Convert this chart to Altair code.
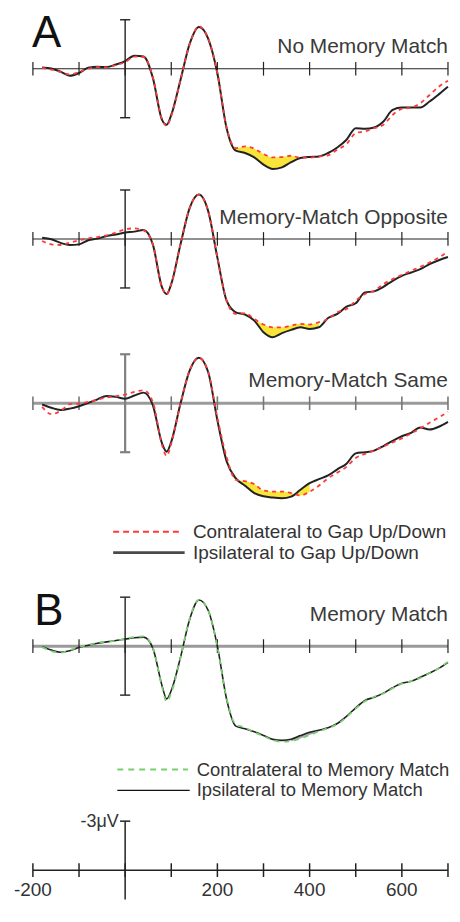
import altair as alt
import pandas as pd

# ---------------- data (ms, µV; negative plotted upward) ----------------
TIME = [-180, -160, -140, -120, -100, -80, -60, -40, -20, 0, 20, 40, 60, 80, 90, 100,
        120, 140, 160, 180, 200, 220, 240, 260, 280, 300, 320, 340, 360, 380, 400,
        420, 440, 460, 480, 500, 520, 540, 560, 580, 600, 620, 640, 660, 680, 700]

A1_IPSI = [-0.08, -0.02, 0.18, 0.43, 0.26, -0.06, -0.12, -0.10, -0.26, -0.47, -0.80, -0.75,
           0.55, 3.13, 3.43, 2.83, 0.69, -1.54, -2.56, -1.85, 0.28, 3.64, 5.02, 5.16, 5.43,
           5.87, 6.14, 6.04, 5.72, 5.47, 5.40, 5.37, 5.16, 4.82, 4.35, 3.64, 3.68, 3.60,
           3.23, 2.52, 2.38, 2.38, 2.38, 2.01, 1.57, 1.10]
A1_CONTRA = [-0.05, 0.05, 0.20, 0.35, 0.20, 0.00, -0.10, -0.08, -0.22, -0.40, -0.74, -0.72,
             0.50, 3.10, 3.50, 2.90, 0.70, -1.50, -2.60, -1.85, 0.25, 3.60, 4.86, 4.76, 4.90,
             5.22, 5.43, 5.41, 5.33, 5.45, 5.45, 5.37, 5.30, 4.96, 4.61, 3.94, 3.84, 3.64,
             3.43, 2.83, 2.46, 2.38, 2.11, 1.61, 1.10, 0.73]

A2_IPSI = [-0.08, 0.02, 0.24, 0.37, 0.33, 0.08, -0.02, -0.18, -0.28, -0.39, -0.45, -0.55,
           0.33, 2.97, 3.37, 2.76, 0.33, -1.91, -2.72, -1.71, 1.14, 3.78, 4.49, 4.63, 5.00,
           5.71, 6.02, 5.77, 5.57, 5.41, 5.51, 5.41, 4.84, 4.59, 4.15, 3.94, 3.27, 3.21,
           2.93, 2.56, 2.26, 2.05, 1.85, 1.54, 1.30, 1.10]
A2_CONTRA = [0.12, 0.33, 0.37, 0.22, 0.08, -0.04, -0.12, -0.22, -0.39, -0.59, -0.65, -0.53,
             0.33, 2.97, 3.40, 2.76, 0.33, -1.91, -2.72, -1.71, 1.14, 3.78, 4.59, 4.55, 4.90,
             5.24, 5.41, 5.41, 5.30, 5.20, 5.24, 5.10, 4.90, 4.49, 4.29, 3.78, 3.37, 3.17,
             2.76, 2.46, 2.20, 1.95, 1.71, 1.44, 1.14, 0.77]

A3_IPSI = [0.08, 0.28, 0.41, 0.33, 0.18, -0.02, -0.24, -0.45, -0.39, -0.28, -0.47, -0.65,
           0.12, 2.46, 2.97, 2.36, 0.02, -2.01, -2.78, -1.91, 1.04, 3.55, 4.60, 5.05, 5.50,
           5.70, 5.78, 5.82, 5.72, 5.30, 4.90, 4.65, 4.42, 4.05, 3.70, 3.07, 3.00, 2.90,
           2.62, 2.30, 2.02, 1.81, 1.48, 1.61, 1.44, 1.14]
A3_CONTRA = [0.22, 0.67, 0.47, 0.06, 0.02, -0.08, -0.22, -0.35, -0.43, -0.53, -0.69, -0.79,
             -0.08, 2.56, 3.23, 2.46, 0.02, -2.01, -2.78, -1.91, 0.90, 3.30, 4.70, 4.77, 4.95,
             5.35, 5.41, 5.41, 5.50, 5.65, 5.42, 5.05, 4.60, 4.25, 3.90, 3.35, 3.10, 2.90,
             2.65, 2.40, 2.15, 1.85, 1.54, 1.20, 0.87, 0.53]

B_IPSI = [0.04, 0.24, 0.37, 0.28, 0.08, -0.06, -0.18, -0.26, -0.35, -0.43, -0.51, -0.55,
          0.12, 2.42, 3.23, 2.72, 0.69, -1.65, -2.83, -2.20, 0.00, 3.25, 4.90, 5.06, 5.25,
          5.47, 5.71, 5.77, 5.70, 5.48, 5.28, 5.15, 5.00, 4.74, 4.30, 3.78, 3.33, 3.13,
          2.88, 2.55, 2.28, 2.15, 1.91, 1.65, 1.36, 0.99]
B_CONTRA = [0.06, 0.30, 0.40, 0.25, 0.05, -0.08, -0.20, -0.28, -0.33, -0.45, -0.55, -0.60,
            0.10, 2.50, 3.40, 2.85, 0.72, -1.70, -2.83, -2.20, 0.05, 3.20, 4.80, 4.98, 5.28,
            5.50, 5.76, 5.85, 5.82, 5.66, 5.45, 5.22, 5.02, 4.78, 4.35, 3.82, 3.38, 3.10,
            2.90, 2.58, 2.30, 2.14, 1.95, 1.65, 1.35, 0.95]

SHADE_A1 = [220, 380]
SHADE_A2 = [240, 420]
SHADE_A3 = [200, 400]
SHADE_B = [360, 420]

TICKS = [-200, -100, 0, 100, 200, 300, 400, 500, 600, 700]
TICK_LABELS = [-200, 200, 400, 600]
SCALE_BAR = [-3, 3]
SCALE_BAR_VISIBLE_END = 1.8   # the bottom scale bar runs off the page
SCALE_LABEL = "-3μV"

TITLES = ["No Memory Match", "Memory-Match Opposite", "Memory-Match Same", "Memory Match"]
LEGEND_A = ["Contralateral to Gap Up/Down", "Ipsilateral to Gap Up/Down"]
LEGEND_B = ["Contralateral to Memory Match", "Ipsilateral to Memory Match"]

# ---------------- layout / style ----------------
PX_PER_UV = 16.4
W = 444
X_DOMAIN = [-254, 704.4]
FONT = "Liberation Sans"
TICK_HALF = 0.42
CAP_HALF = 11
DARK = "#222222"
GRAY = "#9a9a9a"
RED = "#ff3a3a"
GREEN = "#79cf6f"
YELLOW = "#f9e43a"


def xq(field):
    return alt.X(f"{field}:Q", scale=alt.Scale(domain=X_DOMAIN, nice=False, zero=False), axis=None)


def yq(field, h, b):
    return alt.Y(f"{field}:Q",
                 scale=alt.Scale(domain=[-b / PX_PER_UV, (h - b) / PX_PER_UV],
                                 reverse=True, nice=False, zero=False),
                 axis=None)


def axis_layers(h, b, line_color, line_width, tick_color, tick_width, bar_color, bar_width,
                bar=SCALE_BAR, caps=(True, True)):
    layers = []
    base = pd.DataFrame({"t0": [TICKS[0]], "t1": [TICKS[-1]], "v": [0.0]})
    layers.append(alt.Chart(base).mark_rule(color=line_color, strokeWidth=line_width)
                  .encode(x=xq("t0"), x2="t1", y=yq("v", h, b)))
    tk = pd.DataFrame({"t": TICKS, "lo": [-TICK_HALF] * len(TICKS), "hi": [TICK_HALF] * len(TICKS)})
    layers.append(alt.Chart(tk).mark_rule(color=tick_color, strokeWidth=tick_width)
                  .encode(x=xq("t"), y=yq("lo", h, b), y2="hi"))
    bd = pd.DataFrame({"t": [0], "lo": [bar[0]], "hi": [bar[1]]})
    layers.append(alt.Chart(bd).mark_rule(color=bar_color, strokeWidth=bar_width)
                  .encode(x=xq("t"), y=yq("lo", h, b), y2="hi"))
    cap_vals = [v for v, keep in zip(bar, caps) if keep]
    cp = pd.DataFrame({"a": [-CAP_HALF] * len(cap_vals), "c": [CAP_HALF] * len(cap_vals), "v": cap_vals})
    layers.append(alt.Chart(cp).mark_rule(color=bar_color, strokeWidth=bar_width)
                  .encode(x=xq("a"), x2="c", y=yq("v", h, b)))
    return layers


def curve_layers(h, b, ipsi, contra, shade, shade_color, ipsi_color, ipsi_width,
                 contra_color, contra_width, dash):
    df = pd.DataFrame({"t": TIME, "i": ipsi, "c": contra})
    sh = df[(df.t >= shade[0]) & (df.t <= shade[1])]
    area = alt.Chart(sh).mark_area(color=shade_color, interpolate="monotone", opacity=1) \
        .encode(x=xq("t"), y=yq("i", h, b), y2="c")
    ip = alt.Chart(df).mark_line(color=ipsi_color, strokeWidth=ipsi_width, interpolate="monotone") \
        .encode(x=xq("t"), y=yq("i", h, b))
    co = alt.Chart(df).mark_line(color=contra_color, strokeWidth=contra_width, strokeDash=dash,
                                 interpolate="monotone") \
        .encode(x=xq("t"), y=yq("c", h, b))
    return [area, ip, co]


def text_layer(h, b, t, v, s, size, color, align="left", baseline="alphabetic"):
    df = pd.DataFrame({"t": [t], "v": [v], "s": [s]})
    return alt.Chart(df).mark_text(align=align, baseline=baseline, fontSize=size, font=FONT,
                                   color=color) \
        .encode(x=xq("t"), y=yq("v", h, b), text="s:N")


def legend_layers(h, b, entries, size=19):
    layers = []
    for (label, v, x0, x1, xt, color, width, dash) in entries:
        df = pd.DataFrame({"a": [x0], "c": [x1], "v": [v]})
        kw = dict(color=color, strokeWidth=width)
        if dash:
            kw["strokeDash"] = dash
        layers.append(alt.Chart(df).mark_rule(**kw).encode(x=xq("a"), x2="c", y=yq("v", h, b)))
        layers.append(text_layer(h, b, xt, v, label, size, "#333333", baseline="middle"))
    return layers


# ---- Panel A1 ----
H1, B1 = 167, 59
p1 = alt.layer(
    *axis_layers(H1, B1, DARK, 1.2, DARK, 1.2, DARK, 1.4),
    *curve_layers(H1, B1, A1_IPSI, A1_CONTRA, SHADE_A1, YELLOW, DARK, 2.0, RED, 1.8, [4, 4]),
    text_layer(H1, B1, 700, -0.98, TITLES[0], 21, "#3a3a3a", align="right"),
    text_layer(H1, B1, -202, -3.49, "A", 44, "#111111", baseline="top"),
).properties(width=W, height=H1)

# ---- Panel A2 ----
H2, B2 = 170, 63
p2 = alt.layer(
    *axis_layers(H2, B2, DARK, 1.2, DARK, 1.2, DARK, 1.4),
    *curve_layers(H2, B2, A2_IPSI, A2_CONTRA, SHADE_A2, YELLOW, DARK, 2.0, RED, 1.8, [4, 4]),
    text_layer(H2, B2, 700, -0.91, TITLES[1], 21, "#3a3a3a", align="right"),
).properties(width=W, height=H2)

# ---- Panel A3 ----
H3, B3 = 235, 58
p3 = alt.layer(
    *axis_layers(H3, B3, GRAY, 3.0, "#777777", 1.6, "#808080", 2.2),
    *curve_layers(H3, B3, A3_IPSI, A3_CONTRA, SHADE_A3, YELLOW, DARK, 2.0, RED, 1.8, [4, 4]),
    text_layer(H3, B3, 700, -0.98, TITLES[2], 21, "#3a3a3a", align="right"),
    *legend_layers(H3, B3, [
        (LEGEND_A[0], 7.87, -26, 125, 147, RED, 2.0, [6, 4]),
        (LEGEND_A[1], 9.15, -26, 129, 147, "#4a4a4a", 3.0, None),
    ]),
).properties(width=W, height=H3)

# ---- Panel B ----
H4, B4 = 225, 67
p4 = alt.layer(
    *axis_layers(H4, B4, GRAY, 3.0, DARK, 1.2, DARK, 1.4),
    *curve_layers(H4, B4, B_IPSI, B_CONTRA, SHADE_B, "#a8a8a8", DARK, 1.6, GREEN, 1.8, [5, 5]),
    text_layer(H4, B4, 700, -1.52, TITLES[3], 21, "#3a3a3a", align="right"),
    text_layer(H4, B4, -197, -3.43, "B", 44, "#111111", baseline="top"),
    *legend_layers(H4, B4, [
        (LEGEND_B[0], 7.56, -17, 136, 155, GREEN, 2.0, [6, 5]),
        (LEGEND_B[1], 8.84, -17, 140, 155, "#111111", 1.3, None),
    ], size=18.5),
).properties(width=W, height=H4)

# ---- Scale panel ----
H5, B5 = 97, 67
lab = pd.DataFrame({"t": TICK_LABELS, "v": [1.22] * len(TICK_LABELS), "s": [str(v) for v in TICK_LABELS]})
p5 = alt.layer(
    *axis_layers(H5, B5, DARK, 1.5, DARK, 1.5, DARK, 1.5,
                 bar=[SCALE_BAR[0], SCALE_BAR_VISIBLE_END], caps=(True, False)),
    alt.Chart(lab).mark_text(align="center", baseline="middle", fontSize=19, font=FONT, color="#333333")
    .encode(x=xq("t"), y=yq("v", H5, B5), text="s:N"),
    text_layer(H5, B5, -14, -2.95, SCALE_LABEL, 18, "#333333", align="right", baseline="middle"),
).properties(width=W, height=H5)

chart = alt.vconcat(p1, p2, p3, p4, p5, spacing=0, bounds="flush").properties(
    padding=0
).configure_view(stroke=None)

chart.save("out.html", embed_options={"renderer": "svg", "actions": False})
